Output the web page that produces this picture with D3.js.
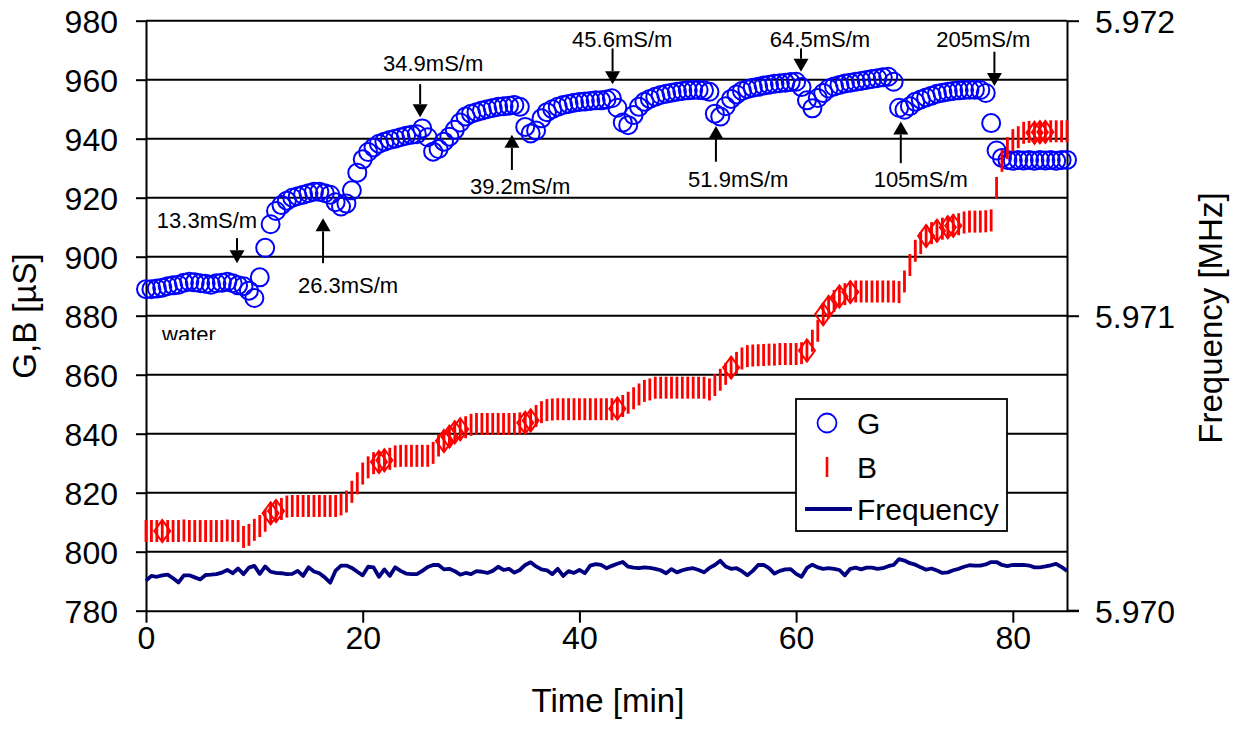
<!DOCTYPE html>
<html><head><meta charset="utf-8">
<script src="https://cdn.jsdelivr.net/npm/d3@7"></script>
<style>
body{margin:0;background:#fff}
svg{display:block}
text{font-family:"Liberation Sans",Arial,Helvetica,sans-serif;fill:#000}
</style>
</head><body>
<svg id="chart" width="1244" height="729"></svg>
<script>
// ---- data ----
const sampleMinutes = 0.5;   // one reading every half minute, t = 0 .. 85 min

const gValues = [
 889, 889, 889.2, 889.5, 890, 890.3, 890.5, 891.2, 891.5, 891.3,
 891, 890.8, 890.5, 891, 891.2, 891.5, 891, 890.3, 890, 888.5,
 886, 893, 903, 911, 915.5, 917.5, 919, 920, 920.5, 921,
 921.5, 922, 922, 921.5, 921, 918.5, 917, 918, 922.5, 928.5,
 933, 935.5, 937, 938.3, 939, 939.6, 940, 940.5, 941, 941.3,
 941.5, 943.5, 940.5, 935.6, 936.5, 939, 940.7, 943, 945.5, 947.5,
 948.5, 949, 949.6, 950, 950.4, 950.8, 951, 951.2, 951.4, 950.8,
 944, 941.8, 942.8, 946.9, 949, 950, 950.8, 951.4, 951.8, 952.2,
 952.4, 952.6, 952.8, 953, 953, 953.3, 953.7, 950.5, 945.5, 944.6,
 948, 950.8, 952.5, 953.5, 954.2, 954.8, 955.2, 955.6, 955.9, 956.2,
 956.4, 956.5, 956.5, 956.4, 955.9, 948.5, 947.5, 951, 953.5, 955,
 956.2, 956.8, 957.3, 957.6, 958, 958.3, 958.6, 958.8, 959, 959.2,
 959.3, 957.5, 953, 950.3, 953.8, 955.5, 957, 957.7, 958.2, 958.7,
 959, 959.3, 959.6, 959.9, 960.2, 960.5, 960.8, 961, 959.3, 950.5,
 949.8, 951, 952.5, 953.3, 954, 954.6, 955.2, 955.6, 955.9, 956.2,
 956.4, 956.5, 956.6, 956.6, 956.5, 955.5, 945.3, 936, 933.5, 932.8,
 932.5, 932.8, 932.6, 932.8, 932.5, 932.8, 932.6, 932.8, 932.5, 932.8,
 932.8
];

const bValues = [
 807, 807, 807, 807, 807, 807, 807, 807.2, 807, 807,
 807, 807, 807, 807, 807, 807.2, 807, 807, 805, 805.7,
 807.4, 808.7, 810.5, 813, 813.8, 814.5, 815.3, 815.5, 815.5, 815.5,
 815.5, 815.5, 815.5, 815.5, 815.5, 815.5, 816, 817, 820.3, 823.2,
 826.5, 828.6, 830, 830.4, 831, 831.5, 832.3, 832.5, 832.5, 832.5,
 832.5, 832.5, 832.5, 833.5, 836, 837.5, 839, 840.5, 841.5, 842.2,
 843, 843.3, 843.3, 843.3, 843.3, 843.3, 843.3, 843.3, 843.3, 843.5,
 843.7, 844.5, 846, 847.3, 848, 848.2, 848.3, 848.3, 848.3, 848.3,
 848.3, 848.3, 848.3, 848.3, 848.3, 848.3, 848.3, 848.5, 849.4, 850.5,
 852, 853.3, 854.5, 855, 855.6, 855.6, 855.6, 855.6, 855.6, 855.6,
 855.6, 855.6, 855.6, 855.6, 855, 856.5, 858.3, 860.3, 862.4, 864,
 865.5, 866.3, 866.5, 866.6, 866.7, 866.8, 866.8, 867, 867, 867,
 867, 867.3, 868.2, 871.5, 874.9, 880.5, 883, 885, 886.5, 887.3,
 888, 888.2, 888.2, 888.2, 888.2, 888.2, 888.2, 888.2, 888.2, 888,
 891.6, 897.2, 902, 904.6, 907, 908, 908.8, 909.5, 910, 910.5,
 911, 911.6, 911.9, 911.9, 911.9, 912, 912.3, 923.3, 932.5, 936.8,
 939.5, 940.5, 942, 942.3, 942, 942.2, 942.3, 942.5, 942.5, 942.5,
 942.5
];

// B readings drawn with the diamond marker (minutes)
const bDiamondTimes = [1.5, 11.5, 12, 21.5, 22, 27.5, 28, 28.5, 29, 35, 35.5, 43.5,
 54, 61, 62.5, 63, 64, 65, 72, 73, 74, 74.5, 82, 82.5, 83];

const freqValues = [
 5.970102, 5.970118, 5.970115, 5.970120, 5.970122, 5.970110, 5.970096, 5.970120, 5.970120, 5.970113,
 5.970106, 5.970121, 5.970122, 5.970124, 5.970129, 5.970138, 5.970127, 5.970143, 5.970124, 5.970146,
 5.970152, 5.970125, 5.970150, 5.970132, 5.970128, 5.970127, 5.970124, 5.970125, 5.970135, 5.970118,
 5.970147, 5.970133, 5.970127, 5.970113, 5.970095, 5.970136, 5.970153, 5.970153, 5.970145, 5.970132,
 5.970120, 5.970149, 5.970147, 5.970115, 5.970140, 5.970118, 5.970147, 5.970135, 5.970126, 5.970124,
 5.970124, 5.970135, 5.970148, 5.970155, 5.970155, 5.970140, 5.970142, 5.970134, 5.970122, 5.970128,
 5.970124, 5.970134, 5.970132, 5.970128, 5.970135, 5.970149, 5.970138, 5.970142, 5.970129, 5.970138,
 5.970155, 5.970164, 5.970150, 5.970140, 5.970137, 5.970124, 5.970142, 5.970118, 5.970134, 5.970128,
 5.970138, 5.970127, 5.970153, 5.970158, 5.970155, 5.970144, 5.970152, 5.970159, 5.970165, 5.970149,
 5.970146, 5.970144, 5.970147, 5.970145, 5.970142, 5.970137, 5.970127, 5.970141, 5.970130, 5.970137,
 5.970142, 5.970144, 5.970138, 5.970130, 5.970145, 5.970155, 5.970169, 5.970150, 5.970142, 5.970144,
 5.970134, 5.970120, 5.970135, 5.970155, 5.970155, 5.970144, 5.970126, 5.970135, 5.970140, 5.970141,
 5.970125, 5.970115, 5.970145, 5.970156, 5.970147, 5.970142, 5.970144, 5.970142, 5.970138, 5.970120,
 5.970142, 5.970146, 5.970140, 5.970146, 5.970146, 5.970142, 5.970144, 5.970151, 5.970155, 5.970175,
 5.970170, 5.970161, 5.970156, 5.970147, 5.970139, 5.970143, 5.970136, 5.970128, 5.970130, 5.970137,
 5.970142, 5.970149, 5.970154, 5.970153, 5.970153, 5.970157, 5.970165, 5.970165, 5.970155, 5.970151,
 5.970155, 5.970155, 5.970155, 5.970153, 5.970147, 5.970147, 5.970150, 5.970154, 5.970159, 5.970148,
 5.970135
];

const xTicks = [0, 20, 40, 60, 80];
const yTicks = [780, 800, 820, 840, 860, 880, 900, 920, 940, 960, 980];
const yRightTicks = [5.970, 5.971, 5.972];
const legendLabels = ["G", "B", "Frequency"];

// conductivity annotations: label position and arrow (tail -> tip) in data units
const annotationLabels = ["13.3mS/m","26.3mS/m","34.9mS/m","39.2mS/m","45.6mS/m","51.9mS/m","64.5mS/m","205mS/m","105mS/m"];
const annotationTextT  = [5.63, 18.65, 26.5, 34.53, 43.95, 54.66, 62.2, 77.28, 71.5];
const annotationTextV  = [909.6, 887.6, 963.0, 921.3, 971.0, 923.5, 971.0, 971.0, 923.7];
const annotationArrowT = [8.40, 16.34, 25.3, 33.77, 43.06, 52.6, 60.45, 78.3, 69.66];
const annotationFromV  = [906.3, 897.8, 958.5, 929.4, 970.6, 932.2, 970.6, 969.5, 931.7];
const annotationToV    = [897.8, 913.0, 947.3, 941.3, 958.5, 944.3, 962.7, 957.9, 945.8];

// ---- drawing ----
const FONT = '"Liberation Sans",Arial,Helvetica,sans-serif';
const svg = d3.select("#chart");
const x = d3.scaleLinear().domain([0, 85]).range([146, 1067]);
const y = d3.scaleLinear().domain([780, 980]).range([610.7, 20.7]);
const y2 = d3.scaleLinear().domain([5.970, 5.972]).range([610.7, 20.7]);
const times = gValues.map((_, i) => i * sampleMinutes);

// gridlines
svg.append("g").selectAll("line").data(yTicks.filter(v => v !== 780)).join("line")
  .attr("x1", x(0)).attr("x2", x(85))
  .attr("y1", d => y(d)).attr("y2", d => y(d))
  .attr("stroke", "#000").attr("stroke-width", 2);

// axes
function styleAxis(g, size) {
  g.selectAll("path").attr("stroke", "#000").attr("stroke-width", 2);
  g.selectAll("line").attr("stroke", "#000").attr("stroke-width", 2);
  g.selectAll("text").attr("font-size", size).attr("font-family", FONT).attr("fill", "#000");
}
svg.append("g").attr("transform", `translate(${x(0)},0)`)
  .call(d3.axisLeft(y).tickValues(yTicks).tickSize(10).tickSizeOuter(0).tickPadding(18).tickFormat(d3.format("d")))
  .call(g => styleAxis(g, 32))
  .call(g => g.selectAll("text").attr("dy", "0.36em"));
svg.append("g").attr("transform", `translate(${x(85)},0)`)
  .call(d3.axisRight(y2).tickValues(yRightTicks).tickSize(12).tickSizeOuter(0).tickPadding(16).tickFormat(d3.format(".3f")))
  .call(g => styleAxis(g, 32))
  .call(g => g.selectAll("text").attr("dy", "0.36em"));
svg.append("g").attr("transform", `translate(0,${y(780)})`)
  .call(d3.axisBottom(x).tickValues(xTicks).tickSize(12).tickSizeOuter(0).tickPadding(4).tickFormat(d3.format("d")))
  .call(g => styleAxis(g, 32));
// extend bottom axis line to right tick
svg.append("line").attr("x1", x(85)).attr("x2", x(85) + 12).attr("y1", y(780)).attr("y2", y(780))
  .attr("stroke", "#000").attr("stroke-width", 2);

// axis titles
svg.append("text").attr("x", 608).attr("y", 712).attr("text-anchor", "middle")
  .attr("font-size", 33).text("Time [min]");
svg.append("text").attr("transform", "translate(36,316) rotate(-90)").attr("text-anchor", "middle")
  .attr("font-size", 33).text("G,B [µS]");
svg.append("text").attr("transform", "translate(1222,318) rotate(-90)").attr("text-anchor", "middle")
  .attr("font-size", 33).text("Frequency [MHz]");

// G circles
svg.append("g").selectAll("circle").data(gValues).join("circle")
  .attr("cx", (d, i) => x(times[i])).attr("cy", d => y(d)).attr("r", 9)
  .attr("fill", "none").attr("stroke", "#0000ff").attr("stroke-width", 2);

// B dashes
svg.append("g").selectAll("line").data(bValues).join("line")
  .attr("x1", (d, i) => x(times[i])).attr("x2", (d, i) => x(times[i]))
  .attr("y1", d => y(d) - 11).attr("y2", d => y(d) + 11)
  .attr("stroke", "#ff0000").attr("stroke-width", 2.8);
// B diamonds
svg.append("g").selectAll("path").data(bDiamondTimes).join("path")
  .attr("d", t => {
    const i = Math.round(t / sampleMinutes);
    const cx = x(times[i]), cy = y(bValues[i]);
    return `M${cx},${cy - 11}L${cx + 8},${cy}L${cx},${cy + 11}L${cx - 8},${cy}Z`;
  })
  .attr("fill", "none").attr("stroke", "#ff0000").attr("stroke-width", 2);

// Frequency line
svg.append("path").datum(freqValues)
  .attr("d", d3.line().x((d, i) => x(times[i])).y(d => y2(d)))
  .attr("fill", "none").attr("stroke", "#000080").attr("stroke-width", 3.8)
  .attr("stroke-linejoin", "round");

// annotations
const ann = svg.append("g");
annotationLabels.forEach((lab, i) => {
  ann.append("text").attr("x", x(annotationTextT[i])).attr("y", y(annotationTextV[i]))
    .attr("text-anchor", "middle").attr("font-size", 22).text(lab);
  const ax = x(annotationArrowT[i]);
  const y1 = y(annotationFromV[i]), yt = y(annotationToV[i]);
  const dir = yt > y1 ? 1 : -1;
  const base = yt - dir * 13;
  ann.append("line").attr("x1", ax).attr("x2", ax).attr("y1", y1).attr("y2", base)
    .attr("stroke", "#000").attr("stroke-width", 2);
  ann.append("path").attr("d", `M${ax},${yt}L${ax + 7.5},${base}L${ax - 7.5},${base}Z`).attr("fill", "#000");
});

// "water" label (bottom clipped as in the original)
svg.append("clipPath").attr("id", "wclip").append("rect")
  .attr("x", 140).attr("y", 300).attr("width", 120).attr("height", 40);
svg.append("text").attr("clip-path", "url(#wclip)")
  .attr("x", x(1.48)).attr("y", y(871.1)).attr("font-size", 22).text("water");

// legend
const lg = svg.append("g");
lg.append("rect").attr("x", 796).attr("y", 399).attr("width", 211).attr("height", 132)
  .attr("fill", "#fff").attr("stroke", "#000").attr("stroke-width", 1.8);
const rowY = [423, 467, 509];
lg.append("circle").attr("cx", 827).attr("cy", rowY[0]).attr("r", 9.5)
  .attr("fill", "none").attr("stroke", "#0000ff").attr("stroke-width", 1.8);
lg.append("line").attr("x1", 827).attr("x2", 827).attr("y1", rowY[1] - 10).attr("y2", rowY[1] + 10)
  .attr("stroke", "#ff0000").attr("stroke-width", 2.6);
lg.append("line").attr("x1", 805).attr("x2", 852).attr("y1", rowY[2]).attr("y2", rowY[2])
  .attr("stroke", "#000080").attr("stroke-width", 3.8);
legendLabels.forEach((l, i) => {
  lg.append("text").attr("x", 857).attr("y", rowY[i] + 10.7).attr("font-size", 30).text(l);
});
</script>
</body></html>
